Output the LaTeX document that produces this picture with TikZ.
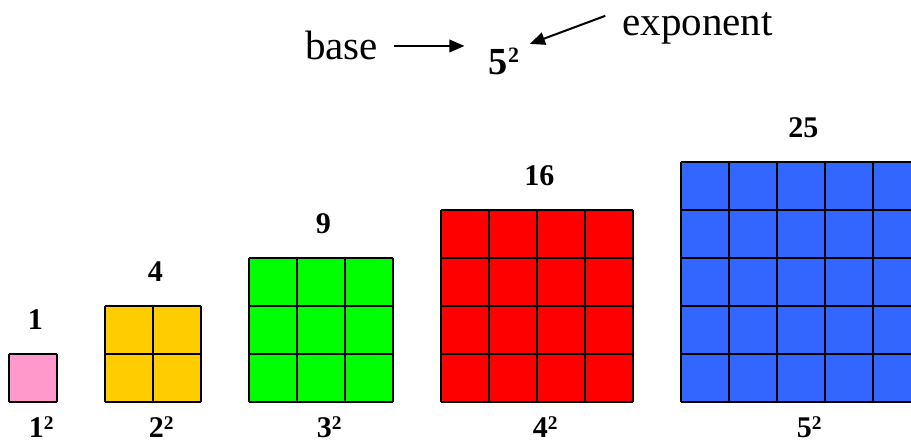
\documentclass[tikz,border=0pt]{standalone}
\usepackage{fontspec}
\setmainfont{Liberation Serif}
\usepackage{tikz}
\usetikzlibrary{arrows.meta,positioning,calc}
\definecolor{sqpink}{HTML}{FF99CC}
\definecolor{sqyellow}{HTML}{FFCC00}
\definecolor{sqgreen}{HTML}{00FF00}
\definecolor{sqred}{HTML}{FF0000}
\definecolor{sqblue}{HTML}{3366FF}
\newcommand{\sqsup}[2]{\raisebox{#1}{\fontsize{#2}{#2}\selectfont 2}}

\begin{document}
\begin{tikzpicture}[x=1cm,y=1cm,
  word/.style={font=\fontsize{24.3}{28}\selectfont,anchor=base},
  count/.style={font=\fontsize{17.8}{21}\selectfont\bfseries,anchor=base},
  arr/.style={-{Triangle[length=9pt,width=7.5pt]},line width=1.2pt},
  gridline/.style={line width=1pt}]
\clip (0,0) rectangle (18.979,9.1875);
% top line
\node[word] (base) at (7.115,7.9375) {base};
\node[word,font=\fontsize{22.7}{26}\selectfont\bfseries] (pow) at (10.5,7.625) {5\sqsup{7.7pt}{13}};
\node[word] (expo) at (14.53,8.458) {exponent};
\draw[arr,shorten <=6pt,shorten >=11pt] (base.east) -- (base.east -| pow.west);
\draw[arr] ([shift={(-0.23,0.25)}]expo.west) -- ([shift={(0.1,-0.05)}]pow.north east);
% squares
\foreach \n/\c/\x in {1/sqpink/0.1875,2/sqyellow/2.1875,3/sqgreen/5.1875,4/sqred/9.1875,5/sqblue/14.1875}{
  \pgfmathtruncatemacro{\sq}{\n*\n}
  \begin{scope}[shift={(\x,0.8125)}]
    \fill[\c] (0,0) rectangle (\n,\n);
    \draw[gridline] (0,0) grid (\n,\n);
    \node[count] (top\n) at (\n/2+0.05,\n+0.52) {\sq};
    \node[count] (bot\n) at (\n/2+0.17,-0.73) {\n\sqsup{4.2pt}{11.5}};
  \end{scope}
}
\end{tikzpicture}
\end{document}
